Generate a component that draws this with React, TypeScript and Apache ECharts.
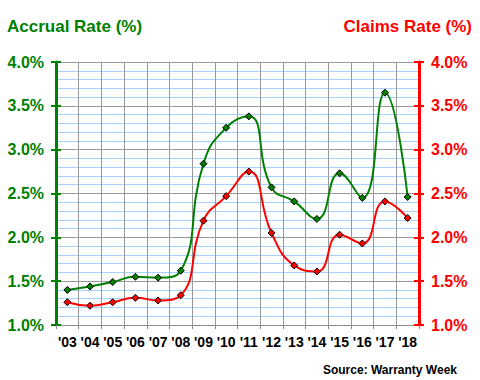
import React, { useEffect, useRef } from "react";
import * as echarts from "echarts";

const years = ["'03", "'04", "'05", "'06", "'07", "'08", "'09", "'10", "'11", "'12", "'13", "'14", "'15", "'16", "'17", "'18"];
const accrualRate = [1.40, 1.44, 1.49, 1.55, 1.54, 1.62, 2.84, 3.25, 3.38, 2.57, 2.41, 2.21, 2.73, 2.45, 3.65, 2.46];
const claimsRate = [1.26, 1.22, 1.26, 1.31, 1.28, 1.34, 2.19, 2.47, 2.75, 2.05, 1.68, 1.61, 2.03, 1.93, 2.41, 2.22];

const GREEN = "#008000";
const RED = "#ff0000";
const FONT = "'Liberation Sans', Arial, sans-serif";

export default function App() {
  const ref = useRef<HTMLDivElement>(null);
  useEffect(() => {
    const chart = echarts.init(ref.current!, null, { renderer: "svg" });
    const fmt = (v: number) => v.toFixed(1) + "%";
    const baseY = {
      type: "value",
      min: 1,
      max: 4,
      interval: 0.5,
    };
    chart.setOption({
      animation: false,
      backgroundColor: "#ffffff",
      grid: { left: 56, right: 61, top: 62, bottom: 55 },
      graphic: [
        {
          type: "text",
          left: 7,
          top: 18,
          style: { text: "Accrual Rate (%)", fill: GREEN, font: `bold 17px ${FONT}` },
        },
        {
          type: "text",
          right: 8,
          top: 18,
          style: { text: "Claims Rate (%)", fill: RED, font: `bold 17px ${FONT}` },
        },
        {
          type: "text",
          right: 23,
          top: 364,
          style: { text: "Source: Warranty Week", fill: "#000", font: `bold 12px ${FONT}` },
        },
      ],
      xAxis: {
        type: "category",
        data: years,
        boundaryGap: true,
        axisLine: { show: true, lineStyle: { color: "#8c8c8c", width: 1 } },
        axisTick: { show: true, length: 4, lineStyle: { color: "#8c8c8c" } },
        axisLabel: { color: "#000", fontFamily: FONT, fontWeight: "bold", fontSize: 14, margin: 10, interval: 0 },
        splitLine: { show: true, lineStyle: { color: "#999999", width: 1 } },
      },
      yAxis: [
        {
          ...baseY,
          position: "left",
          axisLine: { show: true, lineStyle: { color: GREEN, width: 3 } },
          axisTick: { show: true, length: 5, lineStyle: { color: GREEN, width: 2 } },
          axisLabel: { color: GREEN, fontFamily: FONT, fontWeight: "bold", fontSize: 16, margin: 12, formatter: fmt },
          splitLine: { show: true, lineStyle: { color: "#999999", width: 1 } },
          minorTick: { show: false, splitNumber: 5 },
          minorSplitLine: { show: true, lineStyle: { color: "#a6d2ff", width: 1 } },
        },
        {
          ...baseY,
          position: "right",
          axisLine: { show: true, lineStyle: { color: RED, width: 3 } },
          axisTick: { show: true, length: 5, lineStyle: { color: RED, width: 2 } },
          axisLabel: { color: RED, fontFamily: FONT, fontWeight: "bold", fontSize: 16, margin: 12, formatter: fmt },
          splitLine: { show: false },
        },
        {
          ...baseY,
          position: "left",
          axisLine: { show: false },
          axisTick: { show: true, inside: true, length: 5, lineStyle: { color: GREEN, width: 2 } },
          axisLabel: { show: false },
          splitLine: { show: false },
        },
        {
          ...baseY,
          position: "right",
          axisLine: { show: false },
          axisTick: { show: true, inside: true, length: 5, lineStyle: { color: RED, width: 2 } },
          axisLabel: { show: false },
          splitLine: { show: false },
        },
      ],
      series: [
        {
          type: "line",
          name: "Accrual Rate",
          yAxisIndex: 0,
          data: accrualRate,
          smooth: 0.5,
          symbol: "diamond",
          symbolSize: 7,
          lineStyle: { color: GREEN, width: 2 },
          itemStyle: { color: GREEN, borderColor: "#000", borderWidth: 1 },
          z: 3,
        },
        {
          type: "line",
          name: "Claims Rate",
          yAxisIndex: 1,
          data: claimsRate,
          smooth: 0.5,
          symbol: "diamond",
          symbolSize: 7,
          lineStyle: { color: RED, width: 2 },
          itemStyle: { color: RED, borderColor: "#000", borderWidth: 1 },
          z: 2,
        },
      ],
    });
    return () => chart.dispose();
  }, []);
  return <div ref={ref} style={{ width: 480, height: 380, position: "absolute", left: 0, top: 0 }} />;
}
